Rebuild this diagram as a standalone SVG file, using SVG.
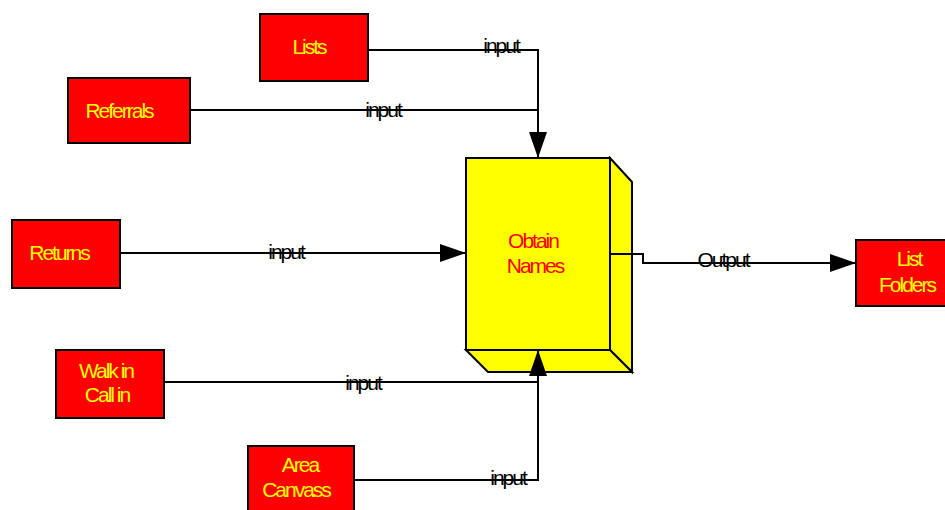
<svg xmlns="http://www.w3.org/2000/svg" width="945" height="510" viewBox="0 0 945 510">
<style>
.box{fill:#ff0000;stroke:#000;stroke-width:2}
.lbl{font-family:"Liberation Sans",Arial,sans-serif;font-size:21px;fill:#ffff00;text-anchor:middle;letter-spacing:-2px}
.cl{font-family:"Liberation Sans",Arial,sans-serif;font-size:21px;fill:#000;text-anchor:middle;letter-spacing:-2px}
.ln{fill:none;stroke:#000;stroke-width:2}
.proc{fill:#ffff00;stroke:#000;stroke-width:2;stroke-linejoin:miter}
</style>
<defs>
<marker id="ah" markerUnits="userSpaceOnUse" markerWidth="26" markerHeight="20" refX="26" refY="9" orient="auto">
<path d="M0,0 L26,9 L0,18 Z" fill="#000"/>
</marker>
</defs>
<rect width="945" height="510" fill="#fff"/>
<g id="lists">
<rect class="box" x="260" y="14" width="108" height="67"/>
<text class="lbl" x="309" y="54">Lists</text>
</g>
<g id="referrals">
<rect class="box" x="68" y="78" width="122" height="65"/>
<text class="lbl" x="119" y="118">Referrals</text>
</g>
<g id="returns">
<rect class="box" x="12" y="220" width="108" height="68"/>
<text class="lbl" x="59" y="260">Returns</text>
</g>
<g id="walkin">
<rect class="box" x="56" y="350" width="108" height="68"/>
<text class="lbl" x="106" y="378">Walk in</text>
<text class="lbl" x="107" y="402">Call in</text>
</g>
<g id="areacanvass">
<rect class="box" x="248" y="446" width="106" height="70"/>
<text class="lbl" x="300" y="472">Area</text>
<text class="lbl" x="296" y="497">Canvass</text>
</g>
<g id="listfolders">
<rect class="box" x="856" y="240" width="95" height="66"/>
<text class="lbl" x="909" y="266">List</text>
<text class="lbl" x="907" y="292">Folders</text>
</g>
<g id="obtainnames">
<path class="proc" d="M610,158 L632,182 V372 L610,350 Z"/>
<path class="proc" d="M466,350 L488,372 H632 L610,350 Z"/>
<rect class="proc" x="466" y="158" width="144" height="192"/>
<text class="lbl" x="533" y="248" style="fill:#ff0000">Obtain</text>
<text class="lbl" x="535" y="273" style="fill:#ff0000">Names</text>
</g>
<g id="connectors">
<path class="ln" d="M368,50 H538 V158" marker-end="url(#ah)"/>
<path class="ln" d="M190,110 H538"/>
<path class="ln" d="M120,253 H466" marker-end="url(#ah)"/>
<path class="ln" d="M164,382 H538"/>
<path class="ln" d="M354,480 H538 V350" marker-end="url(#ah)"/>
<path class="ln" d="M610,254 H643 V263 H856" marker-end="url(#ah)"/>
<text class="cl" x="501" y="53">input</text>
<text class="cl" x="383" y="117">input</text>
<text class="cl" x="286" y="259">input</text>
<text class="cl" x="363" y="390">input</text>
<text class="cl" x="508" y="485">input</text>
<text class="cl" x="723" y="267">Output</text>
</g>
</svg>
